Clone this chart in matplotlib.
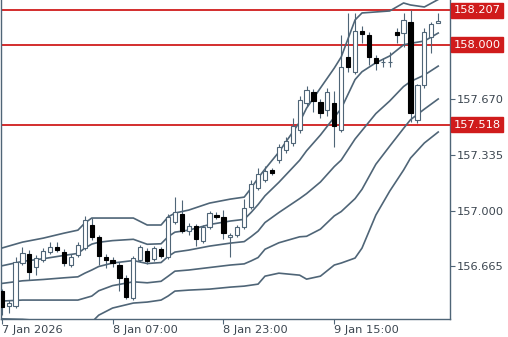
import numpy as np
import matplotlib
matplotlib.use("Agg")
import matplotlib.pyplot as plt
import matplotlib.transforms as mtransforms

# hourly candles, index 0 = 7 Jan 15:00
opens = [156.516, 156.426, 156.426, 156.685, 156.739, 156.661, 156.703, 156.751, 156.781, 156.751,
         156.673, 156.733, 156.775, 156.914, 156.841, 156.721, 156.703, 156.673, 156.594, 156.474,
         156.703, 156.757, 156.709, 156.769, 156.721, 156.932, 156.980, 156.877, 156.908, 156.817,
         156.902, 156.974, 156.962, 156.841, 156.853, 156.902, 157.022, 157.137, 157.185, 157.245,
         157.305, 157.365, 157.408, 157.486, 157.649, 157.715, 157.655, 157.606, 157.649, 157.486,
         157.926, 157.835, 158.082, 158.058, 157.920, 157.894, 157.893, 158.076, 158.070, 158.136,
         157.546, 157.757, 158.046, 158.130]
highs = [156.528, 156.462, 156.721, 156.781, 156.763, 156.733, 156.775, 156.811, 156.811, 156.769,
         156.739, 156.811, 156.968, 156.956, 156.853, 156.739, 156.721, 156.691, 156.612, 156.727,
         156.793, 156.775, 156.787, 156.781, 156.980, 157.082, 157.064, 156.926, 156.920, 156.914,
         156.998, 156.992, 157.004, 156.865, 156.914, 157.070, 157.185, 157.257, 157.269, 157.257,
         157.402, 157.444, 157.558, 157.691, 157.751, 157.733, 157.673, 157.739, 157.721, 158.058,
         158.191, 158.191, 158.112, 158.076, 157.938, 157.920, 157.956, 158.100, 158.191, 158.209,
         157.763, 158.100, 158.136, 158.191]
lows = [156.372, 156.384, 156.414, 156.673, 156.582, 156.612, 156.691, 156.739, 156.751, 156.667,
        156.661, 156.721, 156.763, 156.823, 156.673, 156.655, 156.661, 156.516, 156.468, 156.462,
        156.691, 156.679, 156.697, 156.715, 156.709, 156.920, 156.865, 156.853, 156.787, 156.805,
        156.890, 156.950, 156.829, 156.721, 156.841, 156.890, 157.010, 157.124, 157.173, 157.215,
        157.287, 157.347, 157.390, 157.468, 157.630, 157.594, 157.558, 157.570, 157.383, 157.474,
        157.835, 157.823, 158.010, 157.877, 157.847, 157.865, 157.865, 158.010, 157.986, 157.534,
        157.528, 157.739, 157.950, 158.130]
closes = [156.420, 156.444, 156.691, 156.745, 156.630, 156.715, 156.757, 156.781, 156.763, 156.685,
          156.721, 156.793, 156.944, 156.841, 156.727, 156.703, 156.685, 156.594, 156.480, 156.715,
          156.781, 156.697, 156.775, 156.727, 156.962, 156.992, 156.877, 156.908, 156.829, 156.902,
          156.986, 156.962, 156.865, 156.853, 156.902, 157.016, 157.161, 157.221, 157.239, 157.227,
          157.383, 157.420, 157.510, 157.667, 157.727, 157.661, 157.588, 157.715, 157.510, 157.865,
          157.865, 158.082, 158.064, 157.926, 157.889, 157.898, 157.897, 158.061, 158.149, 157.588,
          157.757, 158.076, 158.124, 158.142]

# bollinger lines read at these candle indices
band_idx = [0, 3, 6, 9, 11, 12, 13, 14, 16, 19, 21, 23, 24, 25, 27, 30, 33, 35, 36, 37, 38,
            40, 43, 44, 46, 48, 49, 51, 52, 54, 56, 58, 59, 61, 63]
upper2 = [156.775, 156.811, 156.835, 156.865, 156.883, 156.926, 156.956, 156.956, 156.956, 156.956,
          156.914, 156.914, 156.962, 156.986, 157.004, 157.046, 157.070, 157.082, 157.136, 157.197,
          157.251, 157.353, 157.534, 157.618, 157.739, 157.859, 157.926, 158.149, 158.191, 158.197,
          158.203, 158.251, 158.239, 158.227, 158.272]
upper1 = [156.668, 156.695, 156.711, 156.731, 156.743, 156.775, 156.799, 156.810, 156.820, 156.828,
          156.798, 156.801, 156.843, 156.871, 156.883, 156.917, 156.938, 156.948, 156.990, 157.037,
          157.090, 157.171, 157.304, 157.361, 157.456, 157.563, 157.615, 157.790, 157.837, 157.891,
          157.932, 157.999, 158.008, 158.022, 158.070]
middle = [156.562, 156.578, 156.586, 156.596, 156.602, 156.624, 156.643, 156.664, 156.685, 156.700,
          156.682, 156.688, 156.724, 156.751, 156.763, 156.787, 156.805, 156.814, 156.844, 156.877,
          156.929, 156.989, 157.073, 157.103, 157.173, 157.266, 157.305, 157.432, 157.483, 157.585,
          157.661, 157.748, 157.778, 157.817, 157.871]
lower1 = [156.456, 156.462, 156.462, 156.462, 156.462, 156.474, 156.486, 156.518, 156.549, 156.572,
          156.566, 156.575, 156.605, 156.636, 156.643, 156.658, 156.673, 156.680, 156.698, 156.718,
          156.768, 156.807, 156.843, 156.846, 156.889, 156.969, 156.995, 157.073, 157.129, 157.280,
          157.389, 157.496, 157.548, 157.612, 157.673]
lower2 = [156.349, 156.346, 156.337, 156.327, 156.321, 156.323, 156.329, 156.371, 156.414, 156.444,
          156.450, 156.462, 156.486, 156.516, 156.522, 156.528, 156.540, 156.546, 156.552, 156.558,
          156.606, 156.624, 156.612, 156.588, 156.606, 156.673, 156.685, 156.715, 156.775, 156.974,
          157.118, 157.245, 157.317, 157.408, 157.474]

levels = [158.207, 158.000, 157.518]
ytick_vals = [157.670, 157.335, 157.000, 156.665]
xtick_pos = [0, 16, 32, 48]
xtick_labels = ["7 Jan 2026", "8 Jan 07:00", "8 Jan 23:00", "9 Jan 15:00"]

edge = "#4f6577"
txt = "#3c4650"
red = "#d01c1c"

fig = plt.figure(figsize=(5.08, 3.37), dpi=100)
ax = fig.add_axes([1 / 508, 18 / 337, 449 / 508, 319 / 337])

x = np.arange(len(opens))
o = np.array(opens)
c = np.array(closes)
up = c >= o

for lv in levels:
    ax.axhline(lv, color=red, lw=1.3, zorder=1)

for line in (upper2, upper1, middle, lower1, lower2):
    ax.plot(band_idx, line, color=edge, lw=1.2, zorder=2)

ax.vlines(x, lows, highs, color=edge, lw=0.8, zorder=3)
ax.bar(x[up], (c - o)[up], bottom=o[up], width=0.6, color="white",
       edgecolor=edge, linewidth=0.8, zorder=4)
ax.bar(x[~up], (o - c)[~up], bottom=c[~up], width=0.6, color="black",
       edgecolor="black", linewidth=0.8, zorder=4)

ax.set_xlim(-0.1, 64.7)
ax.set_ylim(156.348, 158.269)

ax.yaxis.tick_right()
ax.set_yticks(ytick_vals)
ax.set_yticklabels(["%.3f" % v for v in ytick_vals])
ax.set_xticks(xtick_pos)
ax.set_xticklabels(xtick_labels, ha="left")
ax.tick_params(axis="both", colors=edge, labelcolor=txt, labelsize=8.2,
               length=3.5, width=0.8, pad=1)

ax.spines["top"].set_visible(False)
for side in ("left", "right", "bottom"):
    ax.spines[side].set_color(edge)
    ax.spines[side].set_linewidth(1.0)

trans = mtransforms.blended_transform_factory(ax.transAxes, ax.transData)
for lv in levels:
    ax.text(1.008, lv, "%.3f" % lv, transform=trans, color="white", fontsize=8.2,
            va="center", ha="left", clip_on=False,
            bbox=dict(boxstyle="square,pad=0.2", fc=red, ec=red))

fig.savefig("out.png", dpi=100)
